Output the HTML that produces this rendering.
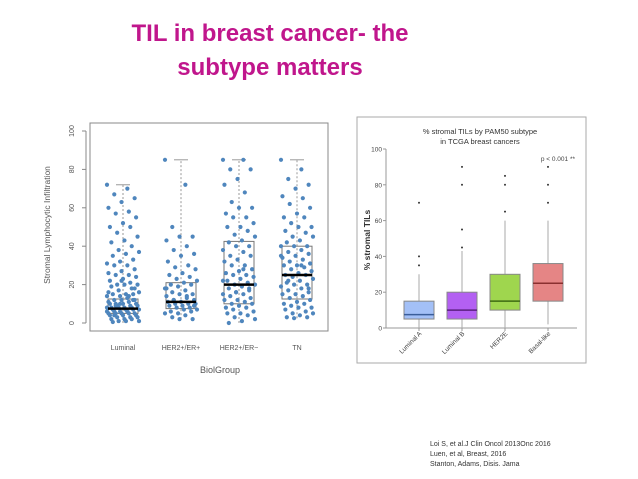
<!DOCTYPE html>
<html><head><meta charset="utf-8"><style>
body{margin:0;background:#fff;width:638px;height:479px;overflow:hidden;font-family:"Liberation Sans",sans-serif}
.t{position:absolute;left:0;width:540px;text-align:center;color:#c0168c;font-weight:bold;font-size:24px}
.cite{position:absolute;left:430px;font-size:7px;color:#333;line-height:10px}
</style></head><body>
<div class="t" style="top:20px">TIL in breast cancer- the</div>
<div class="t" style="top:54px">subtype matters</div>
<div class="cite" style="top:440px">Loi S, et al.J Clin Oncol 2013Onc 2016<br>Luen, et al, Breast, 2016<br>Stanton, Adams, Disis. Jama</div>
<svg id="s" width="638" height="479" style="position:absolute;left:0;top:0" xmlns="http://www.w3.org/2000/svg"></svg>
<script>
// Left chart data
const leftCats=["Luminal","HER2+/ER+","HER2+/ER−","TN"];
const leftQ1=[5,7.5,10,12.5];
const leftMed=[7.5,11,20,25];
const leftQ3=[12.5,21,42.5,40];
const leftLo=[0,2,0,2.5];
const leftHi=[72,85,85,85];
const leftPts0=[72,70,67,65,63,60,58,57,55,52,50,50,47,45,43,42,40,38,37,36,35,33,32,31,30,30,28,27,26,25,25,24,23,22,21,20,20,20,19,18,17,16,15,15,15,14,14,13,12,12,12,11,11,10,10,10,10,9,9,9,8,8,8,8,7,7,7,7,6,6,6,6,5,5,5,5,5,4,4,4,3,3,3,2,2,2,1,1,1,0.5,12,10,8,6,4,18,22,16,14,9];
const leftPts1=[85,72,50,45,45,43,40,38,36,35,32,30,29,28,26,25,24,23,22,21,20,20,19,18,17,16,15,15,14,13,12,12,11,11,10,10,10,9,9,8,8,7,7,6,6,5,5,4,3,2,2,18,14,12,9];
const leftPts2=[85,85,80,80,75,72,68,63,60,60,57,55,55,52,50,50,48,46,45,43,42,40,40,38,37,35,35,33,32,30,30,28,27,26,25,25,24,23,22,21,20,20,19,18,17,16,15,15,14,13,12,12,11,10,10,9,8,8,7,6,5,5,4,3,2,1,0,18,16,22,28];
const leftPts3=[85,80,75,72,70,66,65,62,60,57,55,55,52,50,50,48,47,45,45,43,42,40,40,40,38,37,36,35,34,33,32,31,30,30,29,28,27,26,25,25,24,23,22,21,20,20,19,18,17,16,15,15,14,13,12,11,10,10,9,8,8,7,6,5,5,4,3,3,2.5,35,30,22,18];
const leftPts=[leftPts0,leftPts1,leftPts2,leftPts3];
const leftTicks=[0,20,40,60,80,100];
// Right chart data
const rightCats=["Luminal A","Luminal B","HER2E","Basal-like"];
const rightQ1=[5,5,10,15];
const rightMed=[7.5,10,15,25];
const rightQ3=[15,20,30,36];
const rightLo=[0,0,0,2];
const rightHi=[30,43,60,60];
const rightOut=[[35,40,70],[45,55,80,90],[65,80,85],[70,80,90]];
const rightTicks=[0,20,40,60,80,100];
const rightFill=["#a3c0f7","#b360f2","#9fd64e","#e58585"];
const rightMedCol=["#3b5e9a","#5a1f80","#3d6a12","#8a3030"];

const s=document.getElementById('s');
const NS="http://www.w3.org/2000/svg";
function mk(tag,attrs,parent,text){const e=document.createElementNS(NS,tag);for(const k in attrs)e.setAttribute(k,attrs[k]);if(text!==undefined)e.textContent=text;(parent||s).appendChild(e);return e;}

// ---- Left chart
const L=mk('g',{});


const ly=v=>323-v*1.92;
const lx=i=>123+i*58;
let fr=mk('rect',{x:90,y:123,width:238,height:208,fill:'none',stroke:'#888','stroke-width':1},L);


leftTicks.forEach(t=>{
  mk('line',{x1:82,x2:86,y1:ly(t),y2:ly(t),stroke:'#888'},L);
  const tx=mk('text',{x:74,y:ly(t),'font-size':7,fill:'#555','text-anchor':'middle',transform:`rotate(-90 74 ${ly(t)})`},L,t);
  
  
});
mk('line',{x1:86,x2:86,y1:ly(0),y2:ly(100),stroke:'#888'},L);
leftCats.forEach((c,i)=>{
  const x=lx(i);
  mk('line',{x1:x,x2:x,y1:ly(leftLo[i]),y2:ly(leftHi[i]),stroke:'#999','stroke-dasharray':'2,2'},L);
  mk('line',{x1:x-7,x2:x+7,y1:ly(leftHi[i]),y2:ly(leftHi[i]),stroke:'#999'},L);
  const b=mk('rect',{x:x-15,y:ly(leftQ3[i]),width:30,height:ly(leftQ1[i])-ly(leftQ3[i]),fill:'none',stroke:'#777'},L);
  
  
  leftPts[i].forEach((v,j)=>{
    const jit=(((j*37)%23)/22-0.5)*32;
    const d=mk('circle',{cx:x+jit,cy:ly(v),r:2.1,fill:'#4f86bd'},L);
    
    
  });
  mk('line',{x1:x-15,x2:x+15,y1:ly(leftMed[i]),y2:ly(leftMed[i]),stroke:'#000','stroke-width':2.5},L);
  const lb=mk('text',{x:x,y:350,'font-size':7,fill:'#555','text-anchor':'middle'},L,c);
  
  
});
let xt=mk('text',{x:220,y:373,'font-size':9,fill:'#555','text-anchor':'middle'},L,'BiolGroup');


let yt=mk('text',{x:50,y:225,'font-size':8.5,fill:'#555','text-anchor':'middle',transform:'rotate(-90 50 225)'},L,'Stromal Lymphocytic Infiltration');



// ---- Right chart
const R=mk('g',{});


const ry=v=>328-v*1.79;
const rx=i=>419+i*43;
let pf=mk('rect',{x:357,y:117,width:229,height:246,fill:'#fff',stroke:'#aaa'},R);


let t1=mk('text',{x:480,y:134,'font-size':7.5,fill:'#333','text-anchor':'middle'},R,'% stromal TILs by PAM50 subtype');


mk('text',{x:480,y:144,'font-size':7.5,fill:'#333','text-anchor':'middle'},R,'in TCGA breast cancers');
let pv=mk('text',{x:575,y:161,'font-size':6.5,fill:'#444','text-anchor':'end'},R,'p < 0.001 **');


mk('line',{x1:386,x2:386,y1:ry(0),y2:ry(100),stroke:'#999'},R);
mk('line',{x1:386,x2:577,y1:ry(0),y2:ry(0),stroke:'#999'},R);
rightTicks.forEach(t=>{
  mk('line',{x1:383,x2:386,y1:ry(t),y2:ry(t),stroke:'#999'},R);
  const tx=mk('text',{x:382,y:ry(t)+2.5,'font-size':6.5,fill:'#444','text-anchor':'end'},R,t);
  
  
});
rightCats.forEach((c,i)=>{
  const x=rx(i);
  mk('line',{x1:x,x2:x,y1:ry(rightLo[i]),y2:ry(rightHi[i]),stroke:'#aaa','stroke-width':1},R);
  const b=mk('rect',{x:x-15,y:ry(rightQ3[i]),width:30,height:ry(rightQ1[i])-ry(rightQ3[i]),fill:rightFill[i],stroke:'#888'},R);
  
  
  mk('line',{x1:x-15,x2:x+15,y1:ry(rightMed[i]),y2:ry(rightMed[i]),stroke:rightMedCol[i],'stroke-width':1.5},R);
  rightOut[i].forEach(v=>{
    const d=mk('circle',{cx:x,cy:ry(v),r:1,fill:'#333'},R);
    
    
  });
  mk('line',{x1:x,x2:x,y1:ry(0),y2:ry(0)+3,stroke:'#999'},R);
  const lb=mk('text',{x:x+3,y:334,'font-size':6.5,fill:'#444','text-anchor':'end',transform:`rotate(-45 ${x+3} 334)`},R,c);
  
  
});
let ryt=mk('text',{x:370,y:240,'font-size':8.5,'font-weight':'bold',fill:'#333','text-anchor':'middle',transform:'rotate(-90 370 240)'},R,'% stromal TILs');


</script>
</body></html>
